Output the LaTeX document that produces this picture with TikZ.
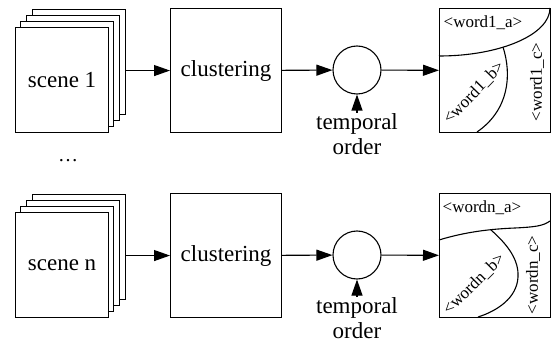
\documentclass[tikz,border=0pt]{standalone}
\usepackage{fontspec}
\setmainfont{Liberation Serif}
\usetikzlibrary{arrows.meta}
\begin{document}
\begin{tikzpicture}[x=1pt,y=-1pt,
  lw/.style={line width=1.1pt},
  big/.style={font=\rmfamily\fontsize{23}{25}\selectfont},
  sheet/.style={draw,lw,fill=white,minimum width=93pt,minimum height=105pt,inner sep=0pt,anchor=north west},
  bigbox/.style={draw,lw,fill=white,minimum width=111pt,minimum height=124pt,inner sep=0pt,anchor=north west,big},
  circ/.style={draw,lw,circle,minimum size=48pt,inner sep=0pt},
  arr/.style={lw,-{Triangle[length=16pt,width=11pt]}},
  lbl/.style={font=\rmfamily\fontsize{17}{20}\selectfont,inner sep=0pt},
  tlab/.style={big,align=center,anchor=north,inner sep=0pt},
]
\useasboundingbox (0,0) rectangle (558,345);

% ---------- top row ----------
\node[sheet] (s1d) at (32,9) {};
\node[sheet] (s1c) at (26,15) {};
\node[sheet] (s1b) at (20,21) {};
\node[sheet,big] (s1a) at (15,27) {scene 1};
\node[bigbox] (c1) at (170,8) {clustering};
\node[circ] (o1) at (357,70) {};
\node[bigbox] (r1) at (439,8) {};
\node[tlab] (t1) at (357,113) {temporal\\order};

\draw[arr] (s1d.east |- c1.west) -- (c1.west);
\draw[arr] (c1) -- (o1);
\draw[arr] (o1) -- (r1);
\draw[arr] (t1) -- (o1);

\draw[lw] (439,56) .. controls (500.3,56) and (550,34.5) .. (550,8);
\draw[lw] (503,47) .. controls (512,75) and (509,110) .. (477,132);
\node[lbl] (w1a) at (483,23) {<word1\_a>};
\node[lbl,rotate=46] (w1b) at (474,93) {<word1\_b>};
\node[lbl,rotate=90] (w1c) at (537,82) {<word1\_c>};

\node[font=\rmfamily\fontsize{20}{22}\selectfont,inner sep=0pt] (dots) at (68,161) {…};

% ---------- bottom row ----------
\node[sheet] (s2d) at (32,194) {};
\node[sheet] (s2c) at (26,200) {};
\node[sheet] (s2b) at (20,206) {};
\node[sheet,big] (s2a) at (15,212) {scene n};
\node[bigbox] (c2) at (170,193) {clustering};
\node[circ] (o2) at (357,255) {};
\node[bigbox] (r2) at (439,193) {};
\node[tlab] (t2) at (357,297) {temporal\\order};

\draw[arr] (s2d.east |- c2.west) -- (c2.west);
\draw[arr] (c2) -- (o2);
\draw[arr] (o2) -- (r2);
\draw[arr] (t2) -- (o2);

\draw[lw] (439,240) .. controls (465,232) and (490,229) .. (515,228) .. controls (535,227) and (543,226) .. (550,221);
\draw[lw] (491,230) .. controls (508,245) and (519,260) .. (518,277) .. controls (517,298) and (497,311) .. (478,317);
\node[lbl] (wna) at (482,208) {<wordn\_a>};
\node[lbl,rotate=45] (wnb) at (474,284) {<wordn\_b>};
\node[lbl,rotate=90] (wnc) at (533,275) {<wordn\_c>};
\end{tikzpicture}
\end{document}
